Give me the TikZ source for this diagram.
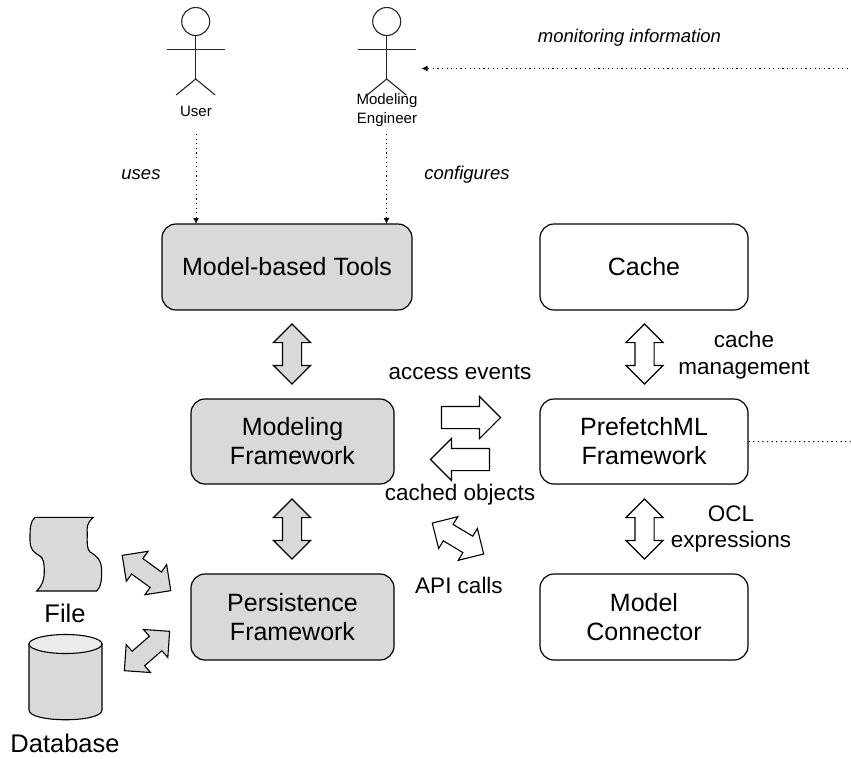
\documentclass[tikz,border=0pt]{standalone}
\usepackage{fontspec}
\setmainfont{Liberation Sans}
\usetikzlibrary{shapes.arrows,arrows.meta}
\definecolor{fillgray}{HTML}{D9D9D9}
\tikzset{
  box/.style={draw=black,line width=1.2pt,rounded corners=14pt,align=center,font=\fontsize{25}{29}\selectfont,inner sep=0pt},
  graybox/.style={box,fill=fillgray},
  whitebox/.style={box,fill=white},
  dbl/.style={shape=double arrow,draw=black,line width=1.1pt,inner sep=9pt,double arrow head extend=9pt,double arrow tip angle=90,minimum width=36pt,minimum height=60pt,anchor=center,outer sep=0pt},
  sgl/.style={shape=single arrow,draw=black,line width=1.1pt,inner sep=10.5pt,single arrow head extend=10pt,single arrow tip angle=90,minimum height=59pt,outer sep=0pt},
  lbl/.style={font=\fontsize{22.5}{26.5}\selectfont,align=center,inner sep=0pt},
  bigl/.style={font=\fontsize{25.5}{30}\selectfont,align=center,inner sep=0pt},
  ital/.style={font=\fontsize{18.5}{22}\selectfont\itshape,inner sep=0pt},
  small/.style={font=\fontsize{15}{19}\selectfont,align=center,inner sep=0pt},
  dots/.style={line width=1pt,dash pattern=on 1.2pt off 3.4pt},
  dotarrow/.style={dots,-{Latex[length=6pt,width=6pt]}},
  stick/.style={draw=black!85,line width=1.1pt}
}
\begin{document}
\begin{tikzpicture}[x=1pt,y=-1pt]
\useasboundingbox (0,0) rectangle (851,758);
% boxes
\node[graybox,minimum width=250pt,minimum height=86pt] (tools) at (287,267) {Model-based Tools};
\node[whitebox,minimum width=208pt,minimum height=86pt] (cache) at (644,267) {Cache};
\node[graybox,minimum width=203pt,minimum height=85pt] (modeling) at (292.5,441.5) {Modeling\\Framework};
\node[whitebox,minimum width=208pt,minimum height=85pt] (prefetch) at (644,441.5) {PrefetchML\\Framework};
\node[graybox,minimum width=203pt,minimum height=86pt] (persist) at (292.5,617) {Persistence\\Framework};
\node[whitebox,minimum width=208pt,minimum height=86pt] (connector) at (644,617) {Model\\Connector};
% actors
\foreach \n/\cx in {userfig/195.7,engfig/386.7}{
  \node[circle,draw=black!85,line width=1.1pt,minimum size=28pt,inner sep=0pt] (\n) at (\cx,21.5) {};
  \coordinate (\n hip) at (\cx,79);
  \coordinate (\n l) at (\cx-29,49.5);
  \coordinate (\n r) at (\cx+29,49.5);
  \coordinate (\n fl) at (\cx-19.5,95);
  \coordinate (\n fr) at (\cx+19.5,95);
  \draw[stick] (\n.south) -- (\n hip);
  \draw[stick] (\n l) -- (\n r);
  \draw[stick] (\n fl) -- (\n hip) -- (\n fr);
}
\node[small] (user) at (196,111) {User};
\node[small] (eng) at (387,110.5) {Modeling\\Engineer};
\coordinate (ua) at (196,134);
\coordinate (ea) at (386.5,134);
\coordinate (ub) at (196,224);
\coordinate (eb) at (386.5,224);
\draw[dotarrow] (ua) -- (ub);
\draw[dotarrow] (ea) -- (eb);
\coordinate (mon) at (421.5,68.5);
\coordinate (monR) at (848,68.5);
\draw[dotarrow] (monR) -- (mon);
\coordinate (pr) at (851,441.7);
\draw[dots] (prefetch.east) -- (pr);
% italic labels
\node[ital] (uses) at (141,175) {uses};
\node[ital] (conf) at (467,175) {configures};
\node[ital] (moni) at (629.5,38) {monitoring information};
% block arrows
\node[dbl,fill=fillgray,rotate=90] (a1) at (292,354) {};
\node[dbl,fill=fillgray,rotate=90] (a2) at (292,529) {};
\node[dbl,fill=white,rotate=90] (a3) at (644.5,354) {};
\node[dbl,fill=white,rotate=90] (a4) at (644.5,529) {};
\node[sgl,fill=white] (ev) at (465.5,417.5) {};
\node[sgl,fill=white,shape border rotate=180] (co) at (465.5,459.5) {};
\node[dbl,fill=white,rotate=-31] (api) at (458,538.5) {};
\node[dbl,fill=fillgray,rotate=-36] (fa) at (146.5,573) {};
\node[dbl,fill=fillgray,rotate=41] (da) at (147,651) {};
% labels
\node[lbl] (l1) at (460,372) {access events};
\node[lbl] (l2) at (460,495) {cached objects};
\node[lbl] (l3) at (459,585) {API calls};
\node[lbl] (l4) at (744,355) {cache\\management};
\node[lbl] (l5) at (731,529) {OCL\\expressions};
\node[bigl] (l6) at (65,613) {File};
\node[bigl] (l7) at (65,743) {Database};
% file
\draw[line width=1.1pt,fill=fillgray] (35,517.3) -- (93.3,517.3)
 .. controls (86,524) and (87,528) .. (87.3,533)
 .. controls (87,544) and (87,549) .. (90,552)
 .. controls (97,556) and (101.7,560) .. (101.7,571.7)
 .. controls (101.7,580) and (101,587) .. (96.7,591)
 -- (36.7,591)
 .. controls (42,586) and (44.3,580) .. (44.3,571.7)
 .. controls (44.3,562) and (43,558) .. (40,556)
 .. controls (33,552) and (30,549) .. (30,540)
 .. controls (30,528) and (30,522) .. (35,517.3) -- cycle;
% database
\draw[line width=1.1pt,fill=fillgray] (29,644) -- (29,710) .. controls (29,723) and (102,723) .. (102,710) -- (102,644) -- cycle;
\draw[line width=1.1pt,fill=black!8] (65.5,644) ellipse[x radius=36.5,y radius=9.5];
\end{tikzpicture}
\end{document}
